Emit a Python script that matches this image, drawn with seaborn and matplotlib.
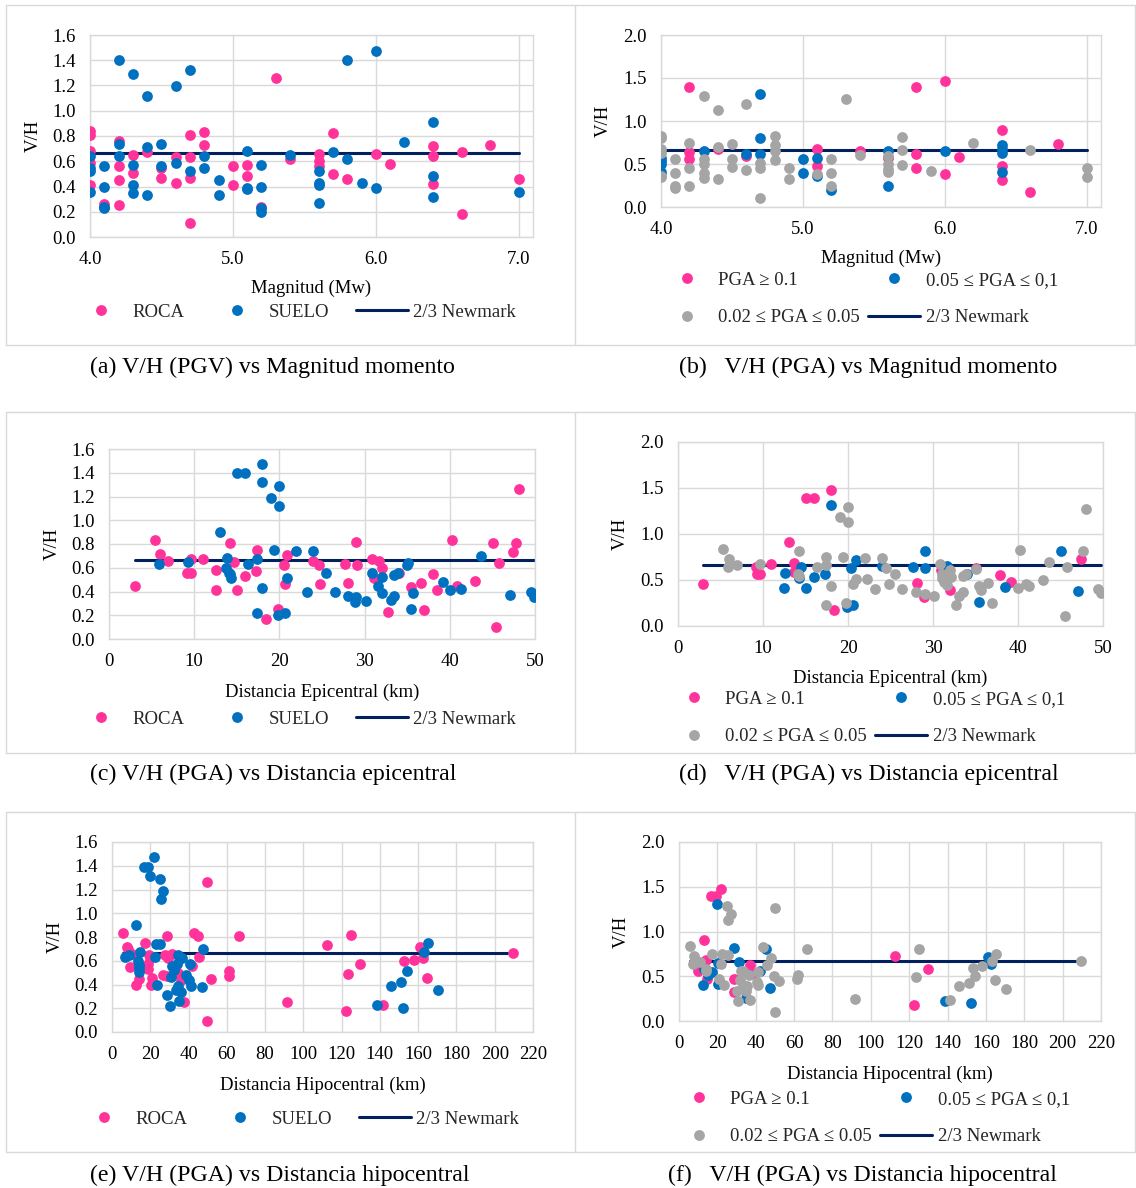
import numpy as np
import matplotlib
matplotlib.use("Agg")
import matplotlib.pyplot as plt
from matplotlib.lines import Line2D
import seaborn as sns

# ---------------- datos ----------------
# (a) V/H (PGV) vs magnitud, por tipo de sitio
a_roca_mw = [4.0, 4.0, 4.0, 4.0, 4.0, 4.1, 4.2, 4.2, 4.2, 4.2, 4.3, 4.3, 4.4, 4.5, 4.5,
             4.6, 4.6, 4.7, 4.7, 4.7, 4.7, 4.8, 4.8, 5.0, 5.0, 5.1, 5.1, 5.2, 5.3, 5.4,
             5.6, 5.6, 5.6, 5.7, 5.7, 5.8, 6.0, 6.1, 6.4, 6.4, 6.4, 6.6, 6.6, 6.8, 7.0]
a_roca_vh = [0.84, 0.81, 0.68, 0.59, 0.41, 0.26, 0.76, 0.56, 0.45, 0.25, 0.65, 0.51, 0.67, 0.55, 0.47,
             0.63, 0.43, 0.81, 0.63, 0.47, 0.11, 0.83, 0.73, 0.56, 0.41, 0.57, 0.48, 0.24, 1.26, 0.62,
             0.66, 0.60, 0.56, 0.82, 0.50, 0.46, 0.66, 0.58, 0.72, 0.64, 0.42, 0.67, 0.18, 0.73, 0.46]
a_suelo_mw = [4.0, 4.0, 4.0, 4.0, 4.1, 4.1, 4.1, 4.1, 4.2, 4.2, 4.2, 4.3, 4.3, 4.3, 4.3,
              4.4, 4.4, 4.4, 4.5, 4.5, 4.6, 4.6, 4.7, 4.7, 4.8, 4.8, 4.9, 4.9, 5.1, 5.1,
              5.1, 5.2, 5.2, 5.2, 5.2, 5.4, 5.6, 5.6, 5.6, 5.6, 5.7, 5.8, 5.8, 5.9, 6.0,
              6.0, 6.2, 6.4, 6.4, 6.4, 7.0]
a_suelo_vh = [0.64, 0.55, 0.52, 0.36, 0.56, 0.40, 0.24, 0.23, 1.40, 0.74, 0.64, 1.29, 0.57, 0.41, 0.35,
              1.12, 0.71, 0.33, 0.74, 0.56, 1.20, 0.59, 1.32, 0.52, 0.64, 0.55, 0.45, 0.33, 0.68, 0.39,
              0.38, 0.57, 0.40, 0.23, 0.20, 0.65, 0.52, 0.43, 0.41, 0.27, 0.67, 1.40, 0.62, 0.43, 1.47,
              0.39, 0.75, 0.91, 0.48, 0.32, 0.36]

# (b) V/H (PGA) vs magnitud, por nivel de PGA
b_pga1_mw = [4.2, 4.2, 4.2, 4.4, 4.6, 5.1, 5.1, 5.4, 5.6, 5.8, 5.8, 5.8, 6.0, 6.0, 6.1,
             6.4, 6.4, 6.4, 6.6, 6.8]
b_pga1_vh = [1.40, 0.64, 0.56, 0.67, 0.59, 0.67, 0.48, 0.65, 0.57, 1.40, 0.62, 0.45, 1.47, 0.38, 0.58,
             0.90, 0.48, 0.31, 0.17, 0.73]
b_pga2_mw = [4.0, 4.0, 4.0, 4.0, 4.3, 4.6, 4.7, 4.7, 4.7, 5.0, 5.0, 5.1, 5.1, 5.2, 5.6,
             5.6, 6.0, 6.4, 6.4, 6.4, 6.4]
b_pga2_vh = [0.57, 0.53, 0.50, 0.41, 0.65, 0.62, 1.31, 0.80, 0.62, 0.56, 0.40, 0.57, 0.36, 0.20, 0.65,
             0.25, 0.65, 0.72, 0.67, 0.63, 0.41]
b_pga3_mw = [4.0, 4.0, 4.0, 4.0, 4.0, 4.0, 4.1, 4.1, 4.1, 4.1, 4.2, 4.2, 4.2, 4.3, 4.3,
             4.3, 4.3, 4.3, 4.4, 4.4, 4.4, 4.5, 4.5, 4.5, 4.6, 4.6, 4.7, 4.7, 4.7, 4.8,
             4.8, 4.8, 4.8, 4.9, 4.9, 5.1, 5.2, 5.2, 5.2, 5.3, 5.4, 5.6, 5.6, 5.6, 5.6,
             5.7, 5.7, 5.7, 5.9, 6.2, 6.6, 7.0, 7.0]
b_pga3_vh = [0.83, 0.80, 0.67, 0.63, 0.36, 0.35, 0.56, 0.39, 0.25, 0.22, 0.75, 0.45, 0.24, 1.29, 0.56,
             0.50, 0.39, 0.34, 1.13, 0.70, 0.32, 0.73, 0.56, 0.46, 1.20, 0.43, 0.51, 0.45, 0.10, 0.83,
             0.72, 0.65, 0.55, 0.45, 0.32, 0.38, 0.56, 0.39, 0.24, 1.26, 0.61, 0.59, 0.50, 0.44, 0.41,
             0.81, 0.66, 0.49, 0.42, 0.75, 0.66, 0.45, 0.35]

# (c) V/H (PGA) vs distancia epicentral, por tipo de sitio
c_roca_km = [3.0, 5.4, 6.0, 6.9, 9.2, 9.6, 9.6, 11.0, 12.6, 12.5, 14.2, 14.7, 15.0, 16.0, 17.3,
             17.4, 18.4, 19.8, 20.5, 20.7, 20.9, 24.0, 24.6, 24.8, 27.7, 28.0, 29.0, 29.1, 30.9, 31.1,
             31.7, 32.0, 32.7, 34.0, 35.5, 36.6, 37.0, 38.0, 38.5, 40.2, 40.9, 42.9, 45.1, 45.4, 45.8,
             47.4, 47.8, 48.1]
c_roca_vh = [0.45, 0.83, 0.72, 0.66, 0.56, 0.56, 0.675, 0.67, 0.58, 0.41, 0.81, 0.65, 0.41, 0.53, 0.57,
             0.75, 0.17, 0.25, 0.62, 0.46, 0.71, 0.66, 0.62, 0.46, 0.63, 0.47, 0.815, 0.625, 0.67, 0.51,
             0.66, 0.60, 0.23, 0.555, 0.44, 0.47, 0.245, 0.55, 0.41, 0.83, 0.45, 0.49, 0.81, 0.10, 0.64,
             0.73, 0.81, 1.26]
c_suelo_km = [5.9, 9.3, 13.0, 13.8, 13.7, 14.1, 14.3, 14.2, 15.0, 16.0, 16.3, 17.4, 17.4, 18.0, 18.0,
              18.0, 19.0, 19.4, 20.0, 20.0, 19.8, 20.6, 20.9, 22.0, 23.2, 24.0, 25.5, 26.5, 28.0, 29.0,
              28.9, 30.2, 30.9, 31.6, 32.0, 32.0, 33.1, 33.5, 33.5, 33.9, 35.0, 35.1, 35.4, 35.7, 39.2,
              40.0, 41.3, 43.7, 47.1, 49.5, 49.9]
c_suelo_vh = [0.63, 0.65, 0.905, 0.68, 0.60, 0.56, 0.51, 0.55, 1.395, 1.395, 0.63, 0.67, 0.22, 1.47, 1.32,
              0.43, 1.19, 0.75, 1.29, 1.12, 0.20, 0.22, 0.51, 0.74, 0.40, 0.74, 0.56, 0.40, 0.36, 0.35,
              0.31, 0.32, 0.56, 0.45, 0.52, 0.39, 0.325, 0.36, 0.54, 0.56, 0.62, 0.64, 0.25, 0.39, 0.48,
              0.41, 0.42, 0.70, 0.37, 0.40, 0.35]

# (d) V/H (PGA) vs distancia epicentral, por nivel de PGA
d_pga1_km = [2.9, 9.2, 9.3, 9.6, 10.9, 13.0, 13.7, 13.6, 15.0, 16.0, 18.0, 18.4, 28.1, 28.9, 30.9,
             32.0, 35.0, 37.9, 39.2, 47.4]
d_pga1_vh = [0.46, 0.64, 0.56, 0.56, 0.67, 0.91, 0.68, 0.59, 1.39, 1.39, 1.475, 0.17, 0.47, 0.32, 0.61,
             0.39, 0.63, 0.55, 0.48, 0.73]
d_pga2_km = [12.5, 12.6, 14.2, 14.5, 15.0, 16.0, 17.3, 18.0, 19.9, 20.6, 20.4, 20.9, 24.0, 27.6, 29.0,
             29.0, 31.6, 34.0, 35.4, 38.5, 45.1, 47.1]
d_pga2_vh = [0.41, 0.58, 0.52, 0.64, 0.41, 0.53, 0.57, 1.31, 0.21, 0.23, 0.63, 0.72, 0.65, 0.64, 0.82,
             0.63, 0.65, 0.56, 0.26, 0.42, 0.81, 0.38]
d_pga3_km = [5.3, 6.0, 5.9, 6.9, 9.6, 14.2, 14.1, 14.2, 16.3, 17.4, 17.4, 17.4, 18.0, 19.0, 19.4,
             20.0, 20.0, 19.8, 20.6, 20.9, 22.0, 22.2, 23.2, 24.0, 24.5, 24.8, 25.5, 26.4, 28.0, 29.0,
             30.1, 30.8, 31.0, 31.1, 31.3, 31.6, 32.0, 32.1, 32.7, 33.0, 33.5, 33.5, 33.9, 35.0, 35.4,
             35.6, 36.5, 36.9, 40.0, 40.2, 40.9, 41.3, 42.9, 43.7, 45.5, 45.8, 47.7, 48.0, 49.4, 49.8]
d_pga3_vh = [0.835, 0.73, 0.64, 0.665, 0.67, 0.81, 0.565, 0.54, 0.64, 0.75, 0.665, 0.23, 0.43, 1.19, 0.75,
             1.29, 1.13, 0.25, 0.46, 0.51, 0.74, 0.51, 0.40, 0.74, 0.63, 0.46, 0.565, 0.40, 0.365, 0.35,
             0.33, 0.67, 0.57, 0.52, 0.48, 0.445, 0.61, 0.535, 0.23, 0.33, 0.365, 0.545, 0.57, 0.615, 0.44,
             0.39, 0.47, 0.25, 0.41, 0.83, 0.455, 0.43, 0.50, 0.70, 0.11, 0.64, 0.81, 1.27, 0.405, 0.36]

# (e) V/H (PGA) vs distancia hipocentral, por tipo de sitio
e_roca_km = [5.9, 7.6, 8.5, 9.5, 10.4, 12.3, 13.9, 17.1, 18.6, 19.0, 19.5, 19.9, 20.5, 21.1, 26.9,
             27.5, 28.6, 28.6, 29.4, 31.3, 34.7, 36.0, 37.6, 41.7, 42.9, 45.2, 45.5, 49.5, 49.5, 51.8,
             61.3, 61.3, 66.6, 91.3, 112.1, 122.4, 123.1, 125.0, 129.6, 141.4, 152.4, 157.7, 161.0, 162.4, 164.7,
             209.3]
e_roca_vh = [0.83, 0.72, 0.70, 0.55, 0.66, 0.40, 0.45, 0.75, 0.53, 0.57, 0.65, 0.62, 0.40, 0.455, 0.48,
             0.65, 0.81, 0.47, 0.62, 0.66, 0.50, 0.44, 0.25, 0.56, 0.83, 0.81, 0.63, 1.265, 0.095, 0.45,
             0.51, 0.47, 0.81, 0.25, 0.73, 0.18, 0.49, 0.815, 0.575, 0.225, 0.595, 0.61, 0.715, 0.62, 0.455,
             0.665]
e_suelo_km = [6.6, 9.1, 12.7, 13.5, 13.9, 14.2, 14.6, 14.2, 16.7, 19.0, 19.7, 21.8, 22.4, 23.0, 23.3,
              24.9, 24.9, 26.8, 25.8, 28.6, 30.2, 30.9, 31.3, 32.4, 33.2, 33.8, 34.3, 34.7, 35.1, 35.9,
              36.6, 38.9, 40.4, 40.8, 41.4, 47.1, 47.6, 138.7, 145.9, 151.0, 152.0, 153.9, 163.0, 165.3, 170.3]
e_suelo_vh = [0.63, 0.65, 0.905, 0.595, 0.54, 0.505, 0.675, 0.567, 1.39, 1.39, 1.31, 1.47, 0.63, 0.74, 0.40,
              0.74, 1.285, 1.19, 1.12, 0.315, 0.22, 0.46, 0.56, 0.52, 0.355, 0.57, 0.39, 0.645, 0.26, 0.34,
              0.62, 0.48, 0.435, 0.57, 0.39, 0.375, 0.70, 0.225, 0.39, 0.425, 0.20, 0.51, 0.67, 0.75, 0.355]

# (f) V/H (PGA) vs distancia hipocentral, por nivel de PGA
f_pga1_km = [9.9, 13.1, 14.2, 14.6, 16.8, 19.2, 22.0, 28.9, 28.6, 37.0, 38.8, 112.7, 122.4, 130.0]
f_pga1_vh = [0.56, 0.90, 0.68, 0.47, 1.40, 1.40, 1.47, 0.47, 0.32, 0.63, 0.53, 0.73, 0.175, 0.58]
f_pga2_km = [12.7, 13.1, 14.9, 17.4, 19.8, 20.2, 20.5, 28.9, 31.4, 34.7, 42.0, 45.4, 47.2, 138.7, 152.2,
             161.2, 162.4]
f_pga2_vh = [0.405, 0.58, 0.51, 0.55, 1.31, 0.65, 0.41, 0.815, 0.66, 0.26, 0.555, 0.81, 0.37, 0.22, 0.205,
             0.72, 0.64]
f_pga3_km = [5.8, 7.1, 8.0, 8.6, 10.8, 14.2, 14.2, 17.2, 21.1, 22.0, 22.4, 23.5, 24.8, 27.1, 25.8,
             25.4, 30.4, 30.6, 31.7, 32.3, 33.2, 33.6, 34.7, 35.5, 37.0, 36.6, 41.1, 41.1, 40.7, 43.9,
             45.8, 47.8, 49.3, 49.9, 49.9, 52.3, 61.6, 62.2, 66.9, 91.7, 123.8, 125.3, 141.2, 146.2, 151.3,
             153.1, 154.2, 158.0, 163.0, 165.4, 164.9, 170.5, 209.7]
f_pga3_vh = [0.835, 0.64, 0.73, 0.68, 0.66, 0.56, 0.58, 0.75, 0.465, 0.64, 0.75, 0.40, 1.285, 1.20, 1.125,
             0.74, 0.33, 0.22, 0.455, 0.56, 0.56, 0.405, 0.33, 0.39, 0.24, 0.51, 0.55, 0.40, 0.435, 0.83,
             0.63, 0.70, 0.50, 1.26, 0.10, 0.45, 0.465, 0.51, 0.81, 0.25, 0.49, 0.81, 0.23, 0.395, 0.43,
             0.59, 0.50, 0.62, 0.67, 0.745, 0.455, 0.36, 0.665]

newmark = 2 / 3

lbl_sitio = ["ROCA", "SUELO"]
lbl_pga = ["PGA \u2265 0.1", "0.05 \u2264 PGA \u2264 0,1", "0.02 \u2264 PGA \u2264 0.05"]
lbl_newmark = "2/3 Newmark"

captions = [
    "(a) V/H (PGV) vs Magnitud momento",
    "(b)   V/H (PGA) vs Magnitud momento",
    "(c) V/H (PGA) vs Distancia epicentral",
    "(d)   V/H (PGA) vs Distancia epicentral",
    "(e) V/H (PGA) vs Distancia hipocentral",
    "(f)   V/H (PGA) vs Distancia hipocentral",
]

# ---------------- estilo ----------------
ROSA = "#FF3399"
AZUL = "#0070C0"
GRIS = "#A5A5A5"
NAVY = "#002060"
REJILLA = "#D9D9D9"

sns.set_theme(style="whitegrid")
plt.rcParams["font.family"] = ["Liberation Serif", "DejaVu Serif"]

W, H = 1136, 1188
FS = 13.5
fig = plt.figure(figsize=(W / 100, H / 100), dpi=100)


def fx(x):
    return x / W


def fy(y):
    return 1 - y / H


def crear_ejes(box):
    l, t, r, b = box
    ax = fig.add_axes([fx(l), fy(b), (r - l) / W, (b - t) / H])
    ax.set_facecolor("white")
    ax.grid(True, color=REJILLA, linewidth=1)
    for s in ax.spines.values():
        s.set_color(REJILLA)
        s.set_linewidth(1)
    ax.tick_params(axis="both", length=0, labelsize=FS, colors="black")
    ax.tick_params(axis="x", pad=10)
    ax.tick_params(axis="y", pad=10)
    return ax


def etiquetas(ax, box, xlabel, xlab_y, ylab_x):
    l, t, r, b = box
    ax.set_xlabel(xlabel, fontsize=FS, color="black", va="center")
    ax.set_ylabel("V/H", fontsize=FS, color="black", va="center")
    ax.xaxis.set_label_coords(0.5, -(xlab_y - b) / (b - t))
    ax.yaxis.set_label_coords(-(l - ylab_x) / (r - l), 0.5)


def linea_newmark(ax, xs):
    xmin, xmax = min(xs), max(xs)
    sns.lineplot(x=[xmin, xmax], y=[newmark, newmark], color=NAVY, linewidth=2.2,
                 ax=ax, label=lbl_newmark, zorder=2, legend=False)


def puntos(ax, x, y, color, label):
    sns.scatterplot(x=x, y=y, color=color, s=60, linewidth=0, ax=ax,
                    label=label, zorder=3, legend=False)


def leyenda(ax, handles, labels, x_px, y_px, ncol, spacing):
    ax.legend(handles, labels, loc="center left", bbox_to_anchor=(fx(x_px), fy(y_px)),
              bbox_transform=fig.transFigure, ncol=ncol, frameon=False, fontsize=FS,
              borderpad=0, borderaxespad=0, handlelength=2.75, handletextpad=0.3,
              columnspacing=spacing, labelspacing=1.1)


def marcador(color):
    return Line2D([], [], ls="", marker="o", ms=7.8, color=color, mec="none")


def leyenda_sitio(ax, x_px, y_px):
    h = [marcador(ROSA), marcador(AZUL), Line2D([], [], color=NAVY, lw=2.2)]
    leyenda(ax, h, [lbl_sitio[0], lbl_sitio[1], lbl_newmark], x_px, y_px, 3, 1.45)


def leyenda_pga(ax, x_px, y_px):
    h = [marcador(ROSA), marcador(GRIS), marcador(AZUL), Line2D([], [], color=NAVY, lw=2.2)]
    leyenda(ax, h, [lbl_pga[0], lbl_pga[2], lbl_pga[1], lbl_newmark], x_px, y_px, 2, 0.45)


def formato_mw(ax, ymax, ystep):
    ax.set_xlim(4.0, 7.1)
    ax.set_xticks([4.0, 5.0, 6.0, 7.0])
    ax.set_xticklabels([f"{v:.1f}" for v in [4.0, 5.0, 6.0, 7.0]])
    yt = np.arange(0, ymax + 1e-9, ystep)
    ax.set_ylim(0, ymax)
    ax.set_yticks(yt)
    ax.set_yticklabels([f"{v:.1f}" for v in yt])


def formato_km(ax, xmax, xstep, ymax, ystep):
    ax.set_xlim(0, xmax)
    ax.set_xticks(np.arange(0, xmax + 1, xstep))
    yt = np.arange(0, ymax + 1e-9, ystep)
    ax.set_ylim(0, ymax)
    ax.set_yticks(yt)
    ax.set_yticklabels([f"{v:.1f}" for v in yt])


# ---------------- (a) ----------------
box = (90, 35, 533, 237)
ax = crear_ejes(box)
linea_newmark(ax, a_roca_mw + a_suelo_mw)
puntos(ax, a_roca_mw, a_roca_vh, ROSA, lbl_sitio[0])
puntos(ax, a_suelo_mw, a_suelo_vh, AZUL, lbl_sitio[1])
formato_mw(ax, 1.6, 0.2)
etiquetas(ax, box, "Magnitud (Mw)", 288, 33)
leyenda_sitio(ax, 75, 312)

# ---------------- (b) ----------------
box = (661, 35, 1101, 207)
ax = crear_ejes(box)
linea_newmark(ax, b_pga1_mw + b_pga2_mw + b_pga3_mw)
puntos(ax, b_pga1_mw, b_pga1_vh, ROSA, lbl_pga[0])
puntos(ax, b_pga2_mw, b_pga2_vh, AZUL, lbl_pga[1])
puntos(ax, b_pga3_mw, b_pga3_vh, GRIS, lbl_pga[2])
formato_mw(ax, 2.0, 0.5)
etiquetas(ax, box, "Magnitud (Mw)", 258, 603)
leyenda_pga(ax, 661, 299)

# ---------------- (c) ----------------
box = (109, 449, 535, 639)
ax = crear_ejes(box)
linea_newmark(ax, c_roca_km + c_suelo_km)
puntos(ax, c_roca_km, c_roca_vh, ROSA, lbl_sitio[0])
puntos(ax, c_suelo_km, c_suelo_vh, AZUL, lbl_sitio[1])
formato_km(ax, 50, 10, 1.6, 0.2)
etiquetas(ax, box, "Distancia Epicentral (km)", 692, 52)
leyenda_sitio(ax, 75, 719)

# ---------------- (d) ----------------
box = (678, 442, 1103, 626)
ax = crear_ejes(box)
linea_newmark(ax, d_pga1_km + d_pga2_km + d_pga3_km)
puntos(ax, d_pga1_km, d_pga1_vh, ROSA, lbl_pga[0])
puntos(ax, d_pga2_km, d_pga2_vh, AZUL, lbl_pga[1])
puntos(ax, d_pga3_km, d_pga3_vh, GRIS, lbl_pga[2])
formato_km(ax, 50, 10, 2.0, 0.5)
etiquetas(ax, box, "Distancia Epicentral (km)", 678, 620)
leyenda_pga(ax, 668, 718)

# ---------------- (e) ----------------
box = (112, 842, 533, 1032)
ax = crear_ejes(box)
linea_newmark(ax, e_roca_km + e_suelo_km)
puntos(ax, e_roca_km, e_roca_vh, ROSA, lbl_sitio[0])
puntos(ax, e_suelo_km, e_suelo_vh, AZUL, lbl_sitio[1])
formato_km(ax, 220, 20, 1.6, 0.2)
etiquetas(ax, box, "Distancia Hipocentral (km)", 1085, 55)
leyenda_sitio(ax, 78, 1119)

# ---------------- (f) ----------------
box = (679, 842, 1101, 1021)
ax = crear_ejes(box)
linea_newmark(ax, f_pga1_km + f_pga2_km + f_pga3_km)
puntos(ax, f_pga1_km, f_pga1_vh, ROSA, lbl_pga[0])
puntos(ax, f_pga2_km, f_pga2_vh, AZUL, lbl_pga[1])
puntos(ax, f_pga3_km, f_pga3_vh, GRIS, lbl_pga[2])
formato_km(ax, 220, 20, 2.0, 0.5)
etiquetas(ax, box, "Distancia Hipocentral (km)", 1074, 621)
leyenda_pga(ax, 673, 1118)

# ---------------- marcos y pies de figura ----------------
for top, bot in [(5, 345), (412, 753), (812, 1152)]:
    for xs, ys in [([6, W], [top, top]), ([6, W], [bot, bot]), ([6, 6], [top, bot]),
                   ([575, 575], [top, bot]), ([W - 1, W - 1], [top, bot])]:
        fig.add_artist(Line2D([fx(v) for v in xs], [fy(v) for v in ys],
                              color=REJILLA, lw=1, transform=fig.transFigure))

cap_pos = [(90, 367), (679, 367), (90, 774), (679, 774), (90, 1175), (668, 1175)]
for txt, (x, y) in zip(captions, cap_pos):
    fig.text(fx(x), fy(y), txt, ha="left", va="center", fontsize=17.2, color="black")

fig.savefig("out.png", dpi=100, facecolor="white")
